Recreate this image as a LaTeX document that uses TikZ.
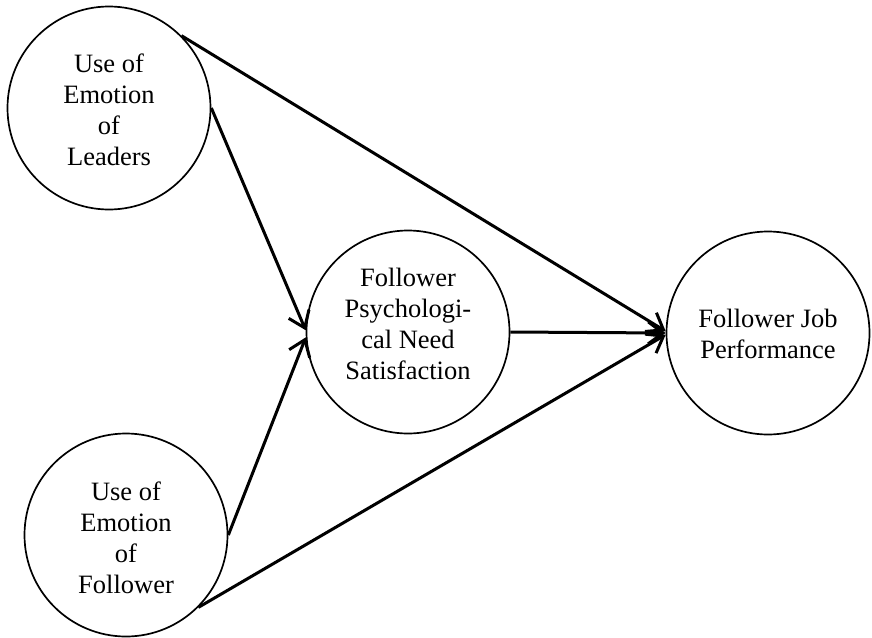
\documentclass[tikz,border=0pt]{standalone}
\usepackage{fontspec}
\setmainfont{Liberation Serif}
\usetikzlibrary{arrows.meta}
\begin{document}
\begin{tikzpicture}[x=1pt,y=-1pt,
  circ/.style={draw, circle, line width=1.7pt, minimum size=203pt, inner sep=0pt},
  lbl/.style={align=center, font=\fontsize{26.5}{31}\selectfont},
  conn/.style={line width=3pt, -{Straight Barb[length=15pt,width=22pt]}}]
\useasboundingbox (0,0) rectangle (872,637);
\node[circ] (c1) at (109,108) {};
\node[circ] (c2) at (126,535) {};
\node[circ] (c3) at (408,332) {};
\node[circ] (c4) at (768,333) {};
\node[lbl] (t1) at (109,110) {Use of\\Emotion\\of\\Leaders};
\node[lbl] (t2) at (126,538) {Use of\\Emotion\\of\\Follower};
\node[lbl] (t3) at (408,324) {Follower\\Psychologi-\\cal Need\\Satisfaction};
\node[lbl] (t4) at (768,334) {Follower Job\\Performance};
\draw[conn] (c1.45) -- (c4.179);
\draw[conn] (c1.east) -- (c3.179);
\draw[conn] (c2.east) -- (c3.183);
\draw[conn] (c2.-45) -- (c4.181);
\draw[conn] (c3.east) -- (c4.180);
\end{tikzpicture}
\end{document}
